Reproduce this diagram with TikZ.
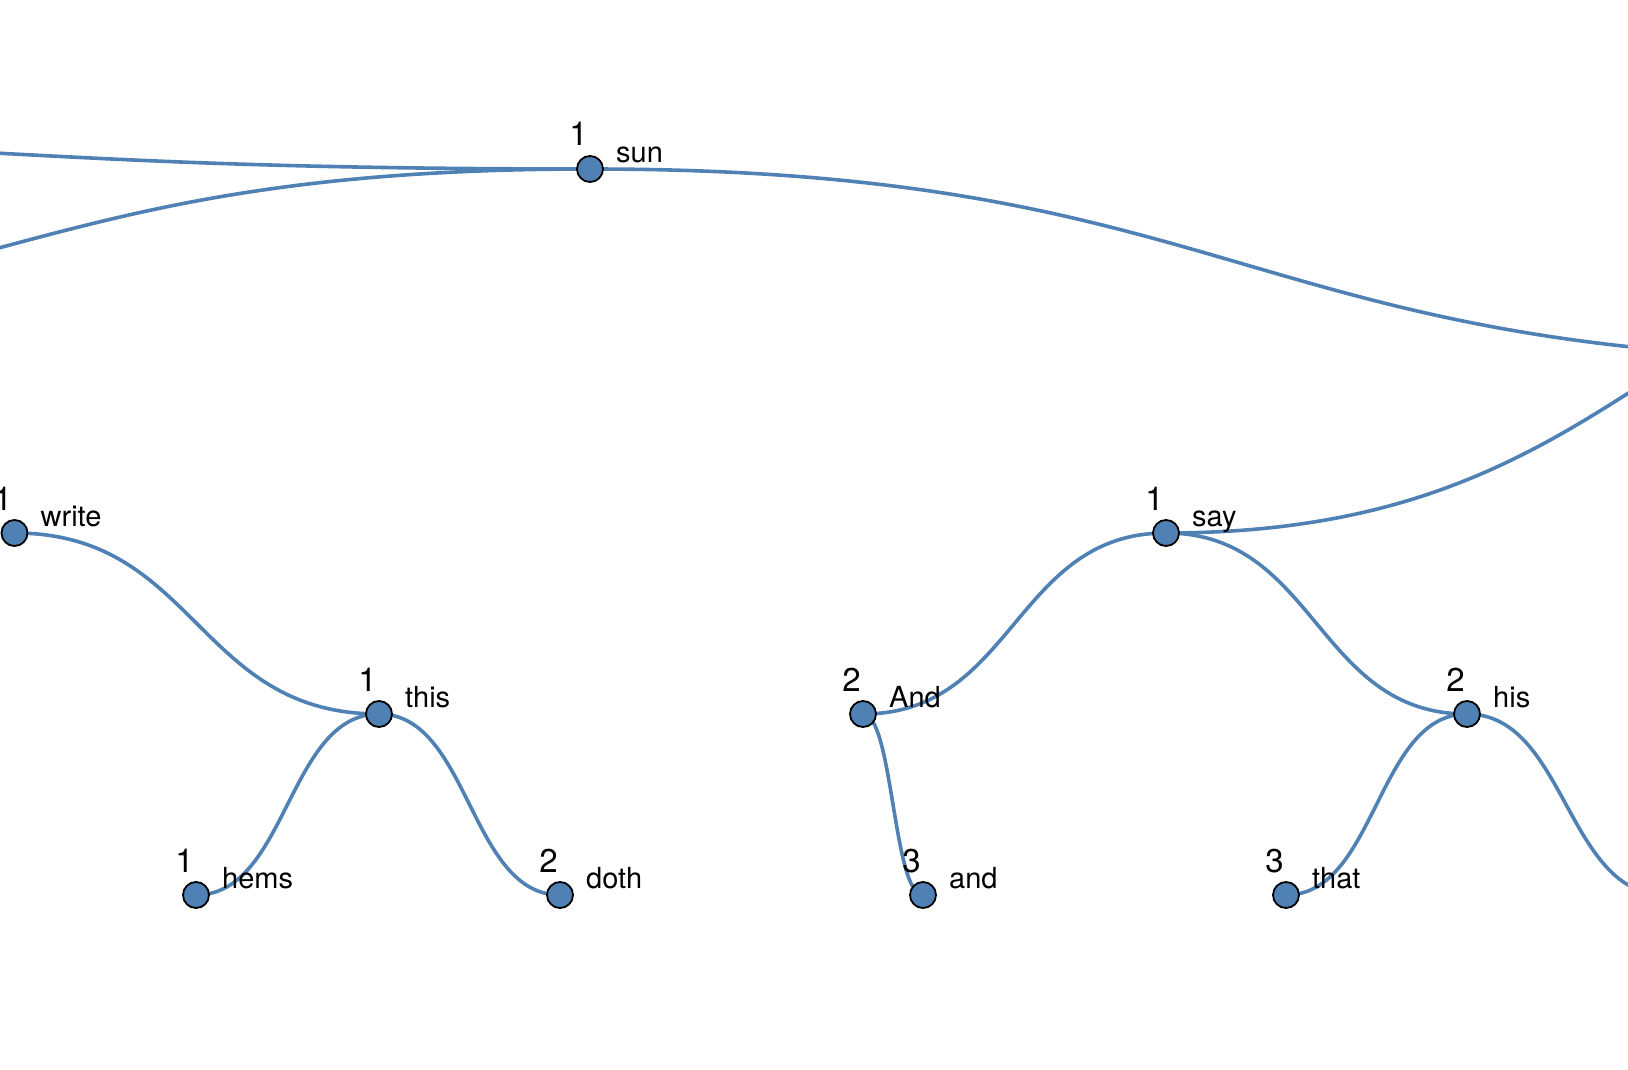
\documentclass[tikz,border=0pt]{standalone}
\usepackage{fontspec}
\setmainfont{TeX Gyre Heros}
\usetikzlibrary{calc}
\pgfdeclarelayer{background}
\pgfsetlayers{background,main}
\definecolor{steel}{RGB}{79,129,181}

\tikzset{
  dot/.style={circle, fill=steel, draw=black, line width=1.8pt, minimum size=26pt, inner sep=0pt},
  link/.style={draw=steel, line width=3.6pt},
  num/.style={font=\fontsize{33}{33}\selectfont, anchor=base east, inner sep=0pt},
  word/.style={font=\fontsize{29}{29}\selectfont, anchor=base west, inner sep=0pt},
}
% horizontal link: tangents flat at both ends
\newcommand\hlink[2]{%
  \draw[link] let \p1=(#1), \p2=(#2), \p3=($(#1)!0.5!(#2)$) in
    (\p1) .. controls (\x3,\y1) and (\x3,\y2) .. (\p2);}
\newcommand\tokn[5]{%
  \node[dot] (#1) at (#2,#3) {};
  \node[num] (#1-n) at ([shift={(-2,-23)}]#1.center) {#4};
  \node[word] (#1-w) at ([shift={(26,-7)}]#1.center) {#5};}

\begin{document}
\begin{tikzpicture}[x=1pt, y=-1pt]
        \useasboundingbox (0,0) rectangle (1628,1070);
        \clip (0,0) rectangle (1628,1070);

        \tokn{sun}{590}{169}{1}{sun}
        \tokn{write}{14.5}{533}{1}{write}
        \tokn{this}{379}{714}{1}{this}
        \tokn{hems}{196}{895}{1}{hems}
        \tokn{doth}{560}{895}{2}{doth}
        \tokn{say}{1166}{533}{1}{say}
        \tokn{And}{863}{714}{2}{And}
        \tokn{his}{1467}{714}{2}{his}
        \tokn{and}{923}{895}{3}{and}
        \tokn{that}{1286}{895}{3}{that}

        % ends outside the frame
        \coordinate (offa) at (-600,137);
        \coordinate (offb) at (-600,329);
        \coordinate (offc) at (1900,360);
        \coordinate (offd) at (2150,215);
        \coordinate (offe) at (1665,895);

        \begin{pgfonlayer}{background}
            \hlink{sun.center}{offa}
            \hlink{sun.center}{offb}
            \hlink{sun.center}{offc}
            \hlink{write.center}{this.center}
            \hlink{this.center}{hems.center}
            \hlink{this.center}{doth.center}
            \hlink{say.center}{offd}
            \hlink{say.center}{And.center}
            \hlink{say.center}{his.center}
            \hlink{And.center}{and.center}
            \hlink{his.center}{that.center}
            \hlink{his.center}{offe}
        \end{pgfonlayer}
    \end{tikzpicture}
\end{document}
